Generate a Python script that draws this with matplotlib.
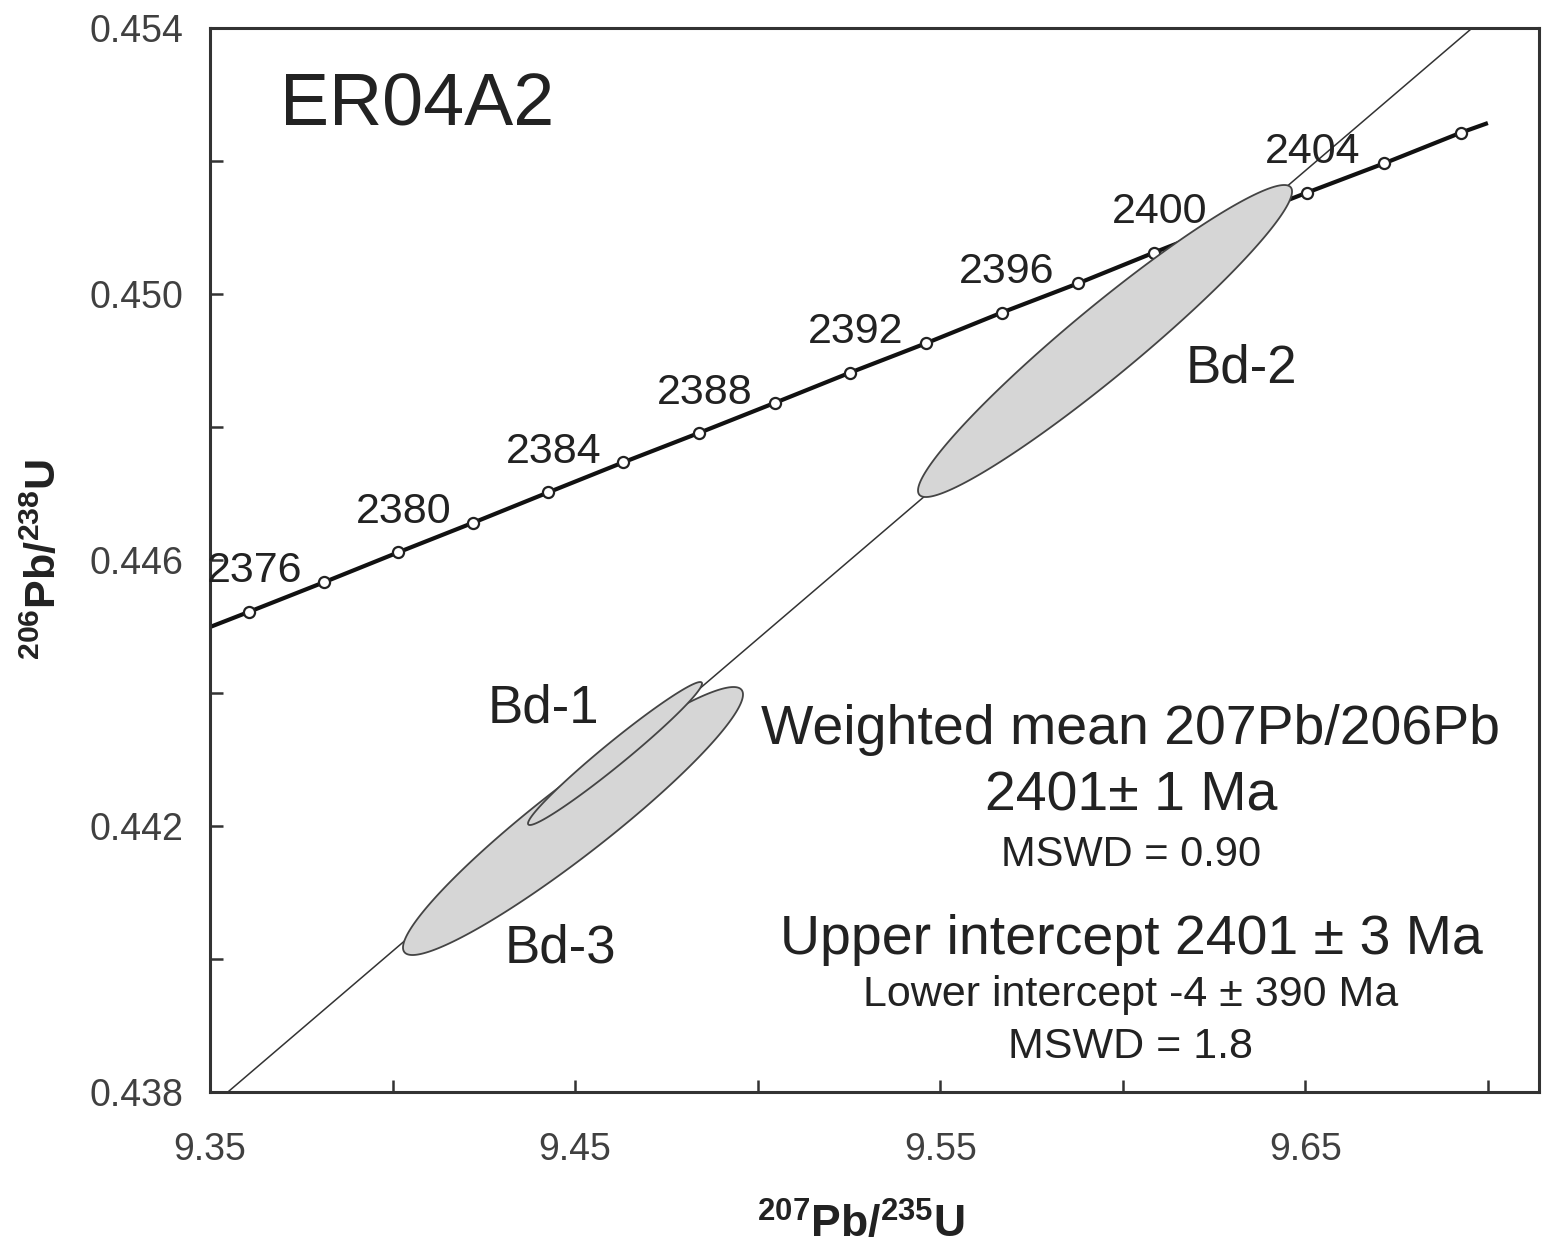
import numpy as np
import matplotlib
matplotlib.use('Agg')
import matplotlib.pyplot as plt

plt.rcParams['font.family'] = ['Liberation Sans', 'DejaVu Sans']
plt.rcParams['mathtext.fontset'] = 'custom'
plt.rcParams['mathtext.rm'] = 'Liberation Sans'
plt.rcParams['mathtext.bf'] = 'Liberation Sans:bold'

# ---- data ----
conc_ages = [2376, 2378, 2380, 2382, 2384, 2386, 2388, 2390, 2392,
             2394, 2396, 2398, 2400, 2402, 2404, 2406, 2408]
conc_x = [9.3608, 9.3812, 9.4016, 9.4221, 9.4427, 9.4632, 9.4839, 9.5048, 9.5253,
          9.5461, 9.5668, 9.5878, 9.6086, 9.6294, 9.6504, 9.6716, 9.6926]
conc_y = [0.445223, 0.445665, 0.446116, 0.446561, 0.447018, 0.447469, 0.447910,
          0.448365, 0.448817, 0.449259, 0.449719, 0.450161, 0.450624, 0.451075,
          0.451523, 0.451965, 0.452426]
conc_start = [9.35, 0.444992]
conc_end = [9.700, 0.452571]
label_ages = [2376, 2380, 2384, 2388, 2392, 2396, 2400, 2404]

discordia_x = [9.3549, 9.6957]
discordia_y = [0.438, 0.454]

ell_names = ['Bd-3', 'Bd-1', 'Bd-2']
ell_cx = [9.44942, 9.46093, 9.59514]
ell_cy = [0.442075, 0.443090, 0.449293]
ell_sx = [0.04656, 0.02383, 0.05122]
ell_sy = [0.002015, 0.001075, 0.002346]
ell_rho = [0.944, 0.978, 0.958]
ell_label_x = [9.44586, 9.4412, 9.63239]
ell_label_y = [0.440165, 0.443774, 0.448887]

xticks_major = [9.35, 9.45, 9.55, 9.65]
xticks_minor = [9.40, 9.50, 9.60, 9.70]
yticks_major = [0.438, 0.442, 0.446, 0.450, 0.454]
yticks_minor = [0.440, 0.444, 0.448, 0.452]

title = 'ER04A2'
info_lines = ['Weighted mean 207Pb/206Pb', '2401\u00b1 1 Ma', 'MSWD = 0.90',
              'Upper intercept 2401 \u00b1 3 Ma', 'Lower intercept -4 \u00b1 390 Ma',
              'MSWD = 1.8']

# ---- figure ----
fig = plt.figure(figsize=(15.43, 12.58), dpi=100)
ax = fig.add_axes([210/1543, 1 - 1092/1258, (1539-210)/1543, (1092-28)/1258])
ax.set_xlim(9.35, 9.714)
ax.set_ylim(0.438, 0.454)

spine_c = '#333333'
txt_c = '#222222'
for s in ax.spines.values():
    s.set_linewidth(2.2)
    s.set_color(spine_c)

ax.set_xticks(xticks_major)
ax.set_xticklabels(['%.2f' % v for v in xticks_major])
ax.set_xticks(xticks_minor, minor=True)
ax.set_yticks(yticks_major)
ax.set_yticklabels(['%.3f' % v for v in yticks_major])
ax.set_yticks(yticks_minor, minor=True)
ax.tick_params(which='both', direction='in', length=9, width=1.8, color=spine_c,
               top=False, right=False)
ax.tick_params(axis='both', which='major', labelsize=27, labelcolor='#404040')
ax.tick_params(axis='x', which='major', pad=29)
ax.tick_params(axis='y', which='major', pad=19)

# discordia
ax.plot(discordia_x, discordia_y, color='#333333', lw=1.1, zorder=2)

# concordia
line_x = [conc_start[0]] + conc_x + [conc_end[0]]
line_y = [conc_start[1]] + conc_y + [conc_end[1]]
ax.plot(line_x, line_y, color='#111111', lw=3.0, zorder=2.2, solid_capstyle='butt')
ax.plot(conc_x, conc_y, 'o', ms=8, mfc='white', mec='#222222', mew=1.6, zorder=2.5)
for age, x, y in zip(conc_ages, conc_x, conc_y):
    if age in label_ages:
        ax.annotate(str(age), (x, y), xytext=(4, 29), textcoords='offset points',
                    ha='center', va='center', fontsize=31, color=txt_c, zorder=5)

# error ellipses
t = np.linspace(0, 2*np.pi, 500)
for cx, cy, sx, sy, r in zip(ell_cx, ell_cy, ell_sx, ell_sy, ell_rho):
    ex = cx + sx*np.cos(t)
    ey = cy + sy*(r*np.cos(t) + np.sqrt(1 - r*r)*np.sin(t))
    ax.fill(ex, ey, facecolor='#d6d6d6', edgecolor='#444444', lw=1.3, zorder=3)
for name, lx, ly in zip(ell_names, ell_label_x, ell_label_y):
    ax.text(lx, ly, name, ha='center', va='center', fontsize=38, color=txt_c, zorder=5)

# title
ax.text(0.0527, 0.9265, title, transform=ax.transAxes, ha='left', va='center',
        fontsize=53, color=txt_c)

# info block
info_y = [0.3402, 0.2773, 0.2227, 0.1429, 0.0912, 0.0423]
info_fs = [40, 40, 30, 40, 31, 31]
for s, yy, fs in zip(info_lines, info_y, info_fs):
    ax.text(0.693, yy, s, transform=ax.transAxes, ha='center', va='center',
            fontsize=fs, color=txt_c)

ax.set_xlabel(r'$\mathbf{^{207}Pb/^{235}U}$', fontsize=32, color=txt_c)
ax.set_ylabel(r'$\mathbf{^{206}Pb/^{238}U}$', fontsize=31, color=txt_c)
ax.xaxis.set_label_coords(0.49, -0.104)
ax.yaxis.set_label_coords(-0.109, 0.5)

fig.savefig('out.png', dpi=100)
